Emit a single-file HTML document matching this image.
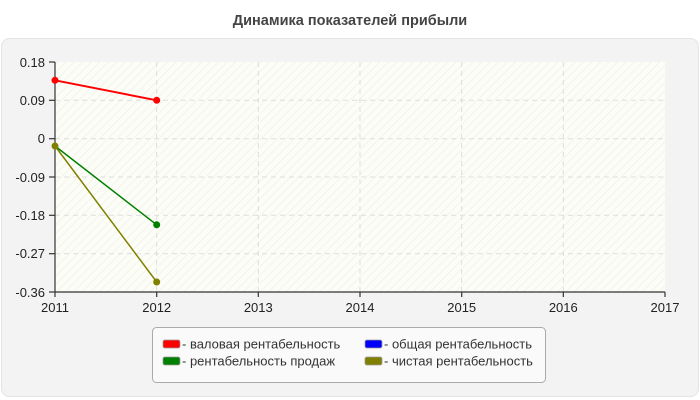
<!DOCTYPE html>
<html><head><meta charset="utf-8"><style>body{margin:0;background:#fff}svg{display:block;font-family:"Liberation Sans",sans-serif}</style></head>
<body>
<svg width="700" height="400" viewBox="0 0 700 400">
<defs><pattern id="h" width="6" height="6" patternUnits="userSpaceOnUse" patternTransform="rotate(45)"><rect width="6" height="6" fill="#fdfdf8"/><line x1="0" y1="0" x2="0" y2="6" stroke="#f0f0ea" stroke-width="1.5"/></pattern></defs>
<text x="350" y="25" text-anchor="middle" font-size="14.5" font-weight="bold" fill="#444">Динамика показателей прибыли</text>
<rect x="1.5" y="38.5" width="697" height="358" rx="8" fill="#f3f3f3" stroke="#e4e4e4"/>
<rect x="55" y="62" width="610" height="230" fill="url(#h)"/>
<g stroke="#ddd" stroke-dasharray="5,4">
<line x1="55" y1="100.3" x2="665" y2="100.3"/><line x1="55" y1="138.7" x2="665" y2="138.7"/><line x1="55" y1="177" x2="665" y2="177"/><line x1="55" y1="215.3" x2="665" y2="215.3"/><line x1="55" y1="253.7" x2="665" y2="253.7"/>
<line x1="156.7" y1="62" x2="156.7" y2="292"/><line x1="258.3" y1="62" x2="258.3" y2="292"/><line x1="360" y1="62" x2="360" y2="292"/><line x1="461.7" y1="62" x2="461.7" y2="292"/><line x1="563.3" y1="62" x2="563.3" y2="292"/>
</g>
<g stroke="#333" stroke-width="1.2">
<line x1="55" y1="62" x2="55" y2="292"/><line x1="55" y1="292" x2="665" y2="292"/>
<line x1="49" y1="62" x2="55" y2="62"/><line x1="49" y1="100.3" x2="55" y2="100.3"/><line x1="49" y1="138.7" x2="55" y2="138.7"/><line x1="49" y1="177" x2="55" y2="177"/><line x1="49" y1="215.3" x2="55" y2="215.3"/><line x1="49" y1="253.7" x2="55" y2="253.7"/><line x1="49" y1="292" x2="55" y2="292"/>
<line x1="55" y1="292" x2="55" y2="297"/><line x1="156.7" y1="292" x2="156.7" y2="297"/><line x1="258.3" y1="292" x2="258.3" y2="297"/><line x1="360" y1="292" x2="360" y2="297"/><line x1="461.7" y1="292" x2="461.7" y2="297"/><line x1="563.3" y1="292" x2="563.3" y2="297"/><line x1="665" y1="292" x2="665" y2="297"/>
</g>
<g font-size="13" fill="#222" text-anchor="end">
<text x="45" y="67">0.18</text><text x="45" y="105">0.09</text><text x="45" y="143">0</text><text x="45" y="182">-0.09</text><text x="45" y="220">-0.18</text><text x="45" y="258">-0.27</text><text x="45" y="297">-0.36</text>
</g>
<g font-size="13" fill="#222" text-anchor="middle">
<text x="55" y="312">2011</text><text x="156.7" y="312">2012</text><text x="258.3" y="312">2013</text><text x="360" y="312">2014</text><text x="461.7" y="312">2015</text><text x="563.3" y="312">2016</text><text x="665" y="312">2017</text>
</g>
<line x1="55" y1="80.3" x2="156.7" y2="100.3" stroke="red" stroke-width="2"/>
<circle cx="55" cy="80.3" r="3.5" fill="red"/><circle cx="156.7" cy="100.3" r="3.5" fill="red"/>
<line x1="55" y1="146" x2="156.7" y2="224.8" stroke="green" stroke-width="1.5"/>
<circle cx="156.7" cy="224.8" r="3.5" fill="green"/>
<line x1="55" y1="146" x2="156.7" y2="282" stroke="olive" stroke-width="1.5"/>
<circle cx="55" cy="146" r="3.5" fill="olive"/><circle cx="156.7" cy="282" r="3.5" fill="olive"/>
<rect x="152.5" y="327.5" width="393" height="55" rx="4" fill="#fafafa" stroke="#aaa"/>
<g stroke="#999" stroke-width="0.8">
<rect x="163" y="340" width="17" height="8" rx="2" fill="red"/><rect x="365" y="340" width="17" height="8" rx="2" fill="blue"/>
<rect x="163" y="357" width="17" height="8" rx="2" fill="green"/><rect x="365" y="357" width="17" height="8" rx="2" fill="olive"/>
</g>
<g font-size="13" fill="#333">
<text x="182" y="348.5">- валовая рентабельность</text><text x="384" y="348.5">- общая рентабельность</text>
<text x="182" y="365.5">- рентабельность продаж</text><text x="384" y="365.5">- чистая рентабельность</text>
</g>
</svg>
</body></html>
